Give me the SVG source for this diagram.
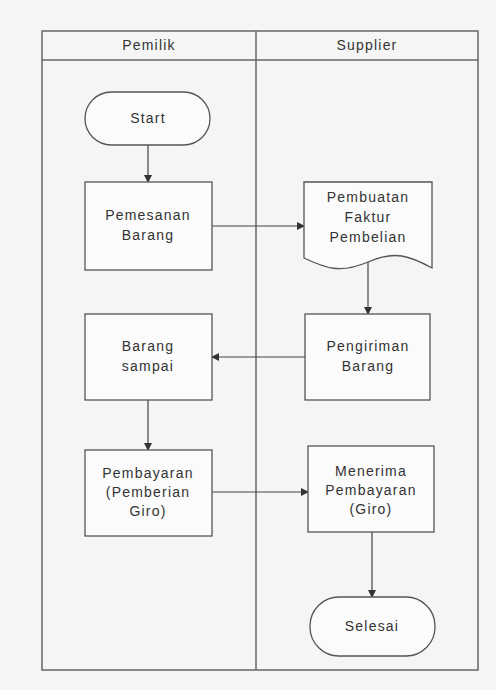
<svg xmlns="http://www.w3.org/2000/svg" width="496" height="690" viewBox="0 0 496 690">
<style>
.lane{fill:none;stroke:#666;stroke-width:1.5}
.node{fill:#fbfbfb;stroke:#555;stroke-width:1.3}
.t{font-family:"Liberation Sans",Arial,sans-serif;font-size:14px;letter-spacing:1.2px;fill:#333;text-anchor:middle}
.c{fill:none;stroke:#444;stroke-width:1.2;marker-end:url(#ah)}
</style>
<defs>
<marker id="ah" markerWidth="8" markerHeight="8" refX="7" refY="4" orient="auto" markerUnits="userSpaceOnUse">
<path d="M0,0 L8,4 L0,8 z" fill="#333"/>
</marker>
</defs>
<rect x="0" y="0" width="496" height="690" fill="#f5f5f5"/>
<g id="pool">
<rect class="lane" x="42" y="31" width="436" height="639" fill="#f7f7f7"/>
<line class="lane" x1="42" y1="60" x2="478" y2="60" stroke-width="0.8"/>
<line class="lane" x1="256" y1="31" x2="256" y2="670"/>
<text class="t" x="149" y="50">Pemilik</text>
<text class="t" x="367" y="50">Supplier</text>
</g>
<g id="connectors">
<line class="c" x1="148" y1="145" x2="148" y2="182"/>
<line class="c" x1="212" y1="226" x2="304" y2="226"/>
<line class="c" x1="368" y1="262" x2="368" y2="314"/>
<line class="c" x1="305" y1="357" x2="212" y2="357"/>
<line class="c" x1="148" y1="400" x2="148" y2="450"/>
<line class="c" x1="212" y1="492" x2="308" y2="492"/>
<line class="c" x1="372" y1="532" x2="372" y2="597"/>
</g>
<g id="start">
<rect class="node" x="85" y="92" width="125" height="53" rx="26.5"/>
<text class="t" x="148" y="123">Start</text>
</g>
<g id="pemesanan">
<rect class="node" x="85" y="182" width="127" height="88"/>
<text class="t" x="148" y="220">Pemesanan</text>
<text class="t" x="148" y="240">Barang</text>
</g>
<g id="faktur">
<path class="node" d="M304,182 H432 V268 C410,256 395,250 368,262 C340,274 325,268 304,258 Z"/>
<text class="t" x="368" y="202">Pembuatan</text>
<text class="t" x="368" y="222">Faktur</text>
<text class="t" x="368" y="242">Pembelian</text>
</g>
<g id="pengiriman">
<rect class="node" x="305" y="314" width="125" height="86"/>
<text class="t" x="368" y="351">Pengiriman</text>
<text class="t" x="368" y="371">Barang</text>
</g>
<g id="sampai">
<rect class="node" x="85" y="314" width="127" height="86"/>
<text class="t" x="148" y="351">Barang</text>
<text class="t" x="148" y="371">sampai</text>
</g>
<g id="pembayaran">
<rect class="node" x="85" y="450" width="127" height="86"/>
<text class="t" x="148" y="478">Pembayaran</text>
<text class="t" x="148" y="497">(Pemberian</text>
<text class="t" x="148" y="516">Giro)</text>
</g>
<g id="menerima">
<rect class="node" x="308" y="446" width="126" height="86"/>
<text class="t" x="371" y="476">Menerima</text>
<text class="t" x="371" y="495">Pembayaran</text>
<text class="t" x="371" y="514">(Giro)</text>
</g>
<g id="selesai">
<rect class="node" x="310" y="597" width="125" height="59" rx="29"/>
<text class="t" x="372" y="631">Selesai</text>
</g>
</svg>
